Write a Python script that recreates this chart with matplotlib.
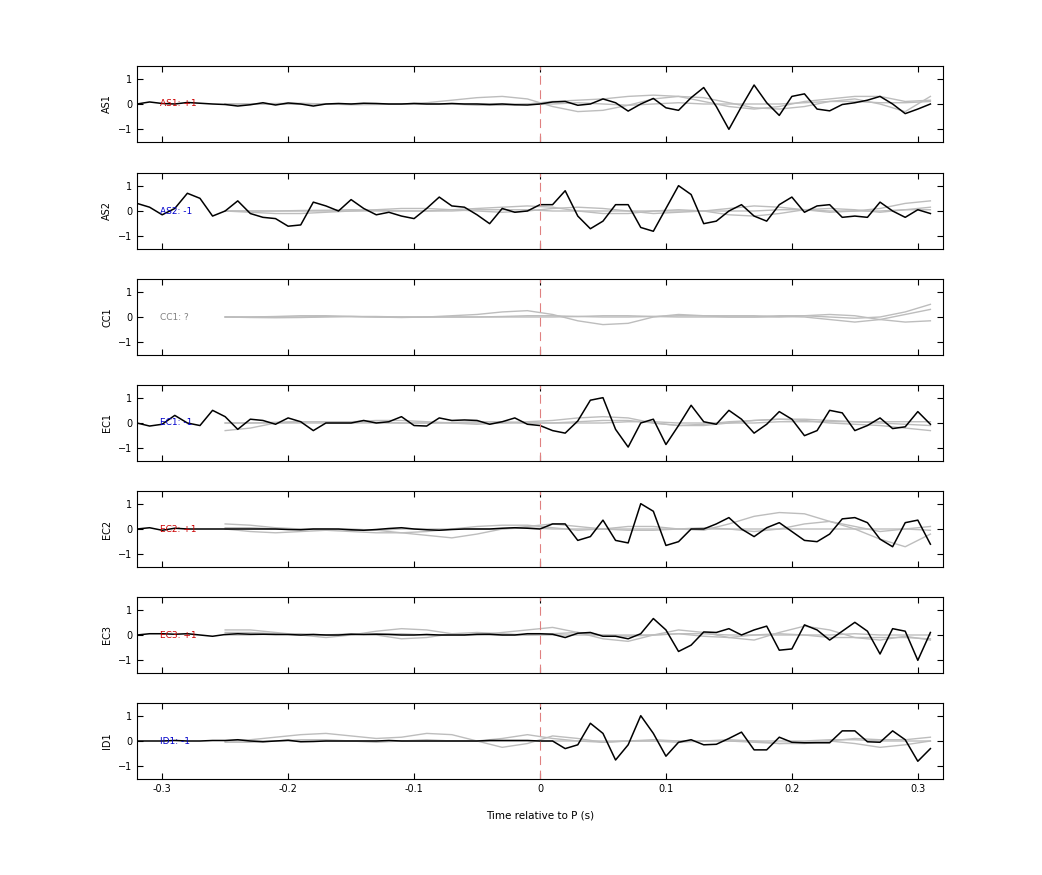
import numpy as np
import matplotlib
matplotlib.use("Agg")
import matplotlib.pyplot as plt

stations = ["AS1", "AS2", "CC1", "EC1", "EC2", "EC3", "ID1"]
labels = ["AS1: +1", "AS2: -1", "CC1: ?", "EC1: -1", "EC2: +1", "EC3: +1", "ID1: -1"]
label_colors = ["#cc0000", "#0000cc", "#808080", "#0000cc", "#cc0000", "#cc0000", "#0000cc"]

t_black = np.round(np.arange(-0.32, 0.315, 0.01), 2)   # 64 samples
t_gray = np.round(np.arange(-0.25, 0.315, 0.02), 2)    # 29 samples

black = {
 "AS1": [0,0.08,0.02,0,0.06,0.03,0,-0.02,-0.08,-0.03,0.05,-0.04,0.04,0,-0.08,0,0.02,0,0.03,0.02,0,0,0.02,0,0,0.02,0,0,-0.02,0,-0.03,-0.04,
         0,0.08,0.1,-0.05,0,0.2,0.05,-0.28,0,0.22,-0.15,-0.25,0.25,0.65,-0.1,-1.0,-0.1,0.75,0.05,-0.45,0.3,0.4,-0.2,-0.27,-0.02,0.05,0.15,0.3,0,-0.38,-0.2,0],
 "AS2": [0.3,0.15,-0.15,0.1,0.7,0.5,-0.2,0,0.4,-0.1,-0.25,-0.3,-0.6,-0.55,0.35,0.2,0,0.45,0.1,-0.15,-0.05,-0.2,-0.3,0.1,0.55,0.2,0.15,-0.15,-0.5,0.1,-0.05,0,
         0.25,0.25,0.8,-0.2,-0.7,-0.4,0.25,0.25,-0.65,-0.8,0.1,1.0,0.65,-0.5,-0.4,0,0.25,-0.2,-0.4,0.25,0.55,-0.05,0.2,0.25,-0.25,-0.2,-0.25,0.35,0,-0.25,0.05,-0.1],
 "CC1": None,
 "EC1": [0,-0.12,-0.05,0.3,0,-0.1,0.5,0.25,-0.25,0.15,0.1,-0.05,0.2,0.05,-0.3,0,0,0,0.1,0,0.05,0.25,-0.1,-0.12,0.2,0.1,0.12,0.1,-0.05,0.05,0.2,-0.05,
         -0.1,-0.3,-0.4,0.08,0.9,1.0,-0.25,-0.95,0,0.15,-0.85,-0.1,0.7,0.05,-0.05,0.5,0.15,-0.4,-0.05,0.45,0.15,-0.5,-0.3,0.5,0.4,-0.3,-0.1,0.2,-0.22,-0.15,0.45,-0.05],
 "EC2": [0,0.05,-0.05,0.03,0,0,0,0,0,0,0,0,-0.02,-0.03,0,0,0,-0.03,-0.05,-0.02,0.02,0.05,0,-0.03,-0.05,-0.02,0,0,0,0.03,0.05,0.03,
         0,0.2,0.2,-0.45,-0.3,0.35,-0.45,-0.55,1.0,0.7,-0.65,-0.5,0,0,0.2,0.45,0,-0.3,0.05,0.25,-0.1,-0.45,-0.5,-0.2,0.4,0.45,0.25,-0.4,-0.7,0.25,0.35,-0.6],
 "EC3": [0,0.05,0.05,0.03,0.05,0,-0.05,0.02,0.05,0.03,0.03,0.02,0.02,0,0.02,0,0,0.03,0.02,0.03,0.02,0,0,0.02,0,0,0,0.03,0.03,0,0,0.05,
         0.05,0.03,-0.1,0.07,0.1,-0.05,-0.05,-0.15,0.05,0.65,0.2,-0.65,-0.4,0.12,0.1,0.25,0,0.2,0.35,-0.6,-0.55,0.4,0.2,-0.2,0.15,0.5,0.15,-0.75,0.25,0.15,-1.0,0.1],
 "ID1": [0,0,0,0.02,0,0,0.02,0.02,0.05,0,-0.03,0,0.03,-0.03,-0.02,0,0,0,0,0,0.02,0,0,0,0,0,0,0,0.02,0.02,0.02,0.02,
         0,0,-0.3,-0.15,0.7,0.3,-0.75,-0.15,1.0,0.3,-0.6,-0.05,0.05,-0.15,-0.13,0.1,0.35,-0.35,-0.35,0.15,-0.05,-0.07,-0.07,-0.07,0.4,0.4,-0.03,-0.05,0.4,0.05,-0.8,-0.3],
}

gray = {
 "AS1": [[0,0,0,0,0,0,0,0,0.05,0.15,0.25,0.3,0.2,-0.1,-0.3,-0.25,-0.05,0.2,0.3,0.25,0.05,-0.15,-0.2,-0.1,0.1,0.2,0.0,-0.3,0.3],
         [0,0,0.02,0.03,0,-0.03,-0.02,0,0.02,0,-0.05,-0.05,0,0.1,0.15,0.2,0.3,0.35,0.3,0.1,-0.1,-0.2,-0.1,0.1,0.2,0.3,0.3,0.1,0.15],
         [0,0,0,0,0,0,0,0,0,0,0,0,0,0,0.05,0,-0.05,0,0.05,0,0,0,0,0.05,0.1,0.1,0.05,0.05,0.1]],
 "AS2": [[0,-0.05,-0.1,-0.1,-0.05,0,0.05,0.1,0.1,0.05,0,-0.05,0,0.1,0.15,0.1,0,-0.1,-0.05,0,0.1,0.2,0.15,0.05,-0.05,0,0.1,0.3,0.4],
         [0,0,0,0.02,0.03,0.05,0.03,0,0,0.05,0.1,0.15,0.2,0.15,0,-0.1,-0.1,0,0.05,0,-0.15,-0.2,-0.1,0.05,0.1,0.05,-0.05,0.05,0.15],
         [0,0,0,0,0,0,0,0,0,0,0.05,0.05,0.05,0,0,0,0,0,0,0,0,0,0.05,0.05,0,0,0,0.05,0.05]],
 "CC1": [[0,0,0.02,0.05,0.05,0.02,0,-0.02,0,0.05,0.1,0.2,0.25,0.1,-0.15,-0.3,-0.25,0,0.1,0.05,0,0,0.05,0.05,0,-0.05,0,0.2,0.5],
         [0,0,0,0,0.02,0.02,0,0,0,0,0,0.02,0.05,0.05,0.02,0,0,0.02,0.05,0.05,0.05,0.05,0.02,0,-0.1,-0.2,-0.1,0.1,0.3],
         [0,-0.02,-0.03,-0.02,0,0.02,0.02,0,0,0,0,0,0,0,0.02,0.05,0.05,0.02,0,0,0,0,0,0.05,0.1,0.05,-0.1,-0.2,-0.15]],
 "EC1": [[-0.3,-0.2,0,0.05,0.05,0.05,0.1,0.1,0.05,0,-0.05,0,0.05,0.1,0.2,0.25,0.2,0,-0.1,-0.05,0.05,0.1,0.15,0.1,0,-0.05,-0.1,-0.2,-0.3],
         [0,0,0.03,0.05,0.05,0.05,0.03,0,0,0.02,0.05,0.05,0,0,0.05,0.1,0.1,0,-0.1,-0.1,0,0.1,0.15,0.15,0.1,0.05,0,-0.05,-0.1],
         [0,0,0,0,0,0,0,0,0,0,0,0,0,0,0,0,0.05,0.05,0,0,0,0,0.05,0.05,0.05,0.05,0.05,0.05,0.05]],
 "EC2": [[0.2,0.15,0.05,0,-0.05,-0.1,-0.15,-0.15,-0.1,0,0.1,0.15,0.15,0.05,-0.05,0,0.1,0.1,0,-0.05,0.2,0.5,0.65,0.6,0.3,0,-0.4,-0.7,-0.2],
         [0,-0.1,-0.15,-0.1,-0.05,0,-0.05,-0.15,-0.25,-0.35,-0.2,0,0.1,0.2,0.1,0,-0.05,-0.05,0,0.05,0,-0.1,0,0.2,0.3,0.1,-0.1,0,0.1],
         [0.05,0.05,0,0,0,-0.05,-0.05,0,0,0,0,0,0.05,0,0,0,0,0,0,0,0,0,0,0,0,0,0,0,-0.05]],
 "EC3": [[0.2,0.2,0.1,0,-0.1,0,0.15,0.25,0.2,0.05,0,0.1,0.2,0.3,0.1,-0.15,-0.25,0,0.2,0.1,-0.1,-0.2,0.1,0.35,0.2,-0.1,-0.2,-0.05,-0.2],
         [0.1,0.1,0.05,0,0,0.05,0,-0.15,-0.1,0.05,0.1,0.05,0,0.05,0.1,0,-0.05,0,0.05,-0.05,-0.1,0,0.05,0,-0.1,-0.1,-0.1,-0.1,-0.15],
         [0,0,0.05,0.05,0,0,0.05,0.05,0,0,0,0,0,0,0,0,0,0,0.05,0.05,0,0,0,0,0,0.05,0,0,0]],
 "ID1": [[0,0.05,0.15,0.25,0.3,0.2,0.1,0.15,0.3,0.25,0,-0.25,-0.1,0.2,0.1,-0.05,0,0,-0.05,0,0.05,0,-0.1,-0.1,0,0.1,0.05,0.05,0.15],
         [-0.05,-0.05,0,0.05,0.05,0,-0.05,0,0.05,0,0,0.1,0.25,0.1,0,-0.05,0,0.05,0,0,0,-0.05,-0.1,-0.05,0,-0.1,-0.25,-0.15,0],
         [0,0,0,0,0,0,0,0,0,0,0,0,0,0,0,0,0,0,0,0,0,0,0,0,0.05,0.05,0,0,0]],
}

fig = plt.figure(figsize=(10.42, 8.75), dpi=100)
W, H = 1042, 875
left, right = 137 / W, 943 / W
tops = [66, 173, 279, 385, 491, 597, 703]
ph = 76
for i, st in enumerate(stations):
    ax = fig.add_axes([left, 1 - (tops[i] + ph) / H, right - left, ph / H])
    for g in gray[st]:
        ax.plot(t_gray, g, color="#bdbdbd", lw=1.0)
    if black[st] is not None:
        ax.plot(t_black, black[st], color="black", lw=1.1)
    ax.axvline(0, color="#e08080", lw=0.8, ls=(0, (8, 5)))
    ax.text(-0.302, 0, labels[i], color=label_colors[i], fontsize=6.5, va="center", ha="left")
    ax.set_xlim(-0.32, 0.32)
    ax.set_ylim(-1.5, 1.5)
    ax.set_yticks([-1, 0, 1])
    ax.set_xticks([-0.3, -0.2, -0.1, 0, 0.1, 0.2, 0.3])
    ax.tick_params(direction="in", top=True, right=True, labelsize=7, length=4)
    ax.set_ylabel(st, fontsize=7)
    if i < len(stations) - 1:
        ax.set_xticklabels([])
    else:
        ax.set_xticklabels(["-0.3", "-0.2", "-0.1", "0", "0.1", "0.2", "0.3"])
        ax.set_xlabel("Time relative to P (s)", fontsize=7.5, labelpad=12)
    for s in ax.spines.values():
        s.set_linewidth(0.8)

fig.savefig("out.png", dpi=100)
